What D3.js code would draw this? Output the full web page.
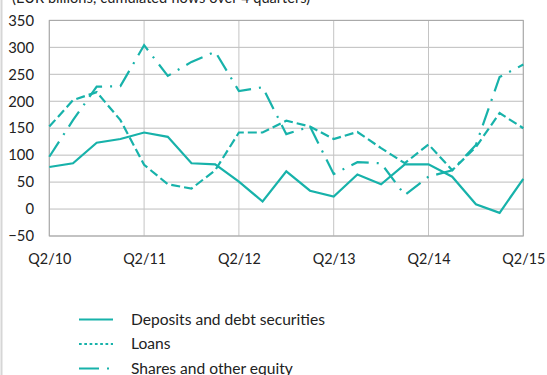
<!DOCTYPE html>
<html>
<head>
<meta charset="utf-8">
<script src="https://cdn.jsdelivr.net/npm/d3@7"></script>
<style>
  html, body { margin: 0; padding: 0; background: #fff; }
  svg { display: block; font-family: "Lato", "Open Sans", sans-serif; }
</style>
</head>
<body>
<svg id="chart" width="547" height="375"></svg>
<script>
const title = "(EUR billions; cumulated flows over 4 quarters)";
const quarters = ["Q2/10","Q3/10","Q4/10","Q1/11","Q2/11","Q3/11","Q4/11","Q1/12","Q2/12","Q3/12","Q4/12","Q1/13","Q2/13","Q3/13","Q4/13","Q1/14","Q2/14","Q3/14","Q4/14","Q1/15","Q2/15"];
const xTickLabels = ["Q2/10","Q2/11","Q2/12","Q2/13","Q2/14","Q2/15"];
const yTicks = [-50, 0, 50, 100, 150, 200, 250, 300, 350];
const deposits = [78, 85, 123, 130, 142, 134, 85, 83, 51, 14, 70, 34, 23, 64, 46, 83, 83, 60, 9, -7, 56];
const loans    = [153, 202, 217, 165, 82, 46, 38, 72, 142, 142, 164, 153, 130, 143, 113, 85, 120, 72, 115, 178, 150];
const shares   = [97, 165, 227, 228, 304, 247, 273, 292, 219, 226, 139, 153, 65, 87, 85, 26, 60, 72, 119, 245, 268];
const seriesNames = ["Deposits and debt securities", "Loans", "Shares and other equity"];

(function () {
const color = "#17b2aa";
const svg = d3.select("#chart");
const pL = 49.3, pR = 523.3, pT = 20.4, pB = 236;

const x = d3.scaleLinear().domain([0, quarters.length - 1]).range([pL, pR]);
const y = d3.scaleLinear().domain([-50, 350]).range([pB, pT]);

// left border line
svg.append("line").attr("x1", 1.5).attr("x2", 1.5).attr("y1", 0).attr("y2", 375)
  .attr("stroke", "#d6d6d6").attr("stroke-width", 2);

// title (cut off at top in the reference)
svg.append("text").attr("x", 12).attr("y", 3).attr("font-size", 14.6).attr("fill", "#222")
  .text(title);

// grid horizontal
svg.append("g").selectAll("line").data(yTicks).join("line")
  .attr("x1", pL).attr("x2", pR)
  .attr("y1", d => y(d)).attr("y2", d => y(d))
  .attr("stroke", "#bdbdbd").attr("stroke-width", 1);

// grid vertical (year ticks)
const yearIdx = xTickLabels.map(l => quarters.indexOf(l));
svg.append("g").selectAll("line").data(yearIdx).join("line")
  .attr("x1", d => x(d)).attr("x2", d => x(d))
  .attr("y1", pT).attr("y2", pB)
  .attr("stroke", "#c4c4c4").attr("stroke-width", 1);

// frame
svg.append("rect").attr("x", pL).attr("y", pT).attr("width", pR - pL).attr("height", pB - pT)
  .attr("fill", "none").attr("stroke", "#a8a8a8").attr("stroke-width", 1);

// y axis labels
const yAxis = d3.axisLeft(y).tickValues(yTicks).tickSize(0).tickPadding(0).tickFormat(d3.format("d"));
const gy = svg.append("g").attr("transform", `translate(34,0)`).call(yAxis);
gy.select(".domain").remove();
gy.selectAll("text").attr("font-size", 14.8).attr("fill", "#222").attr("font-family", "Lato, 'Open Sans', sans-serif");

// x axis labels (narrowed horizontally to mimic the condensed original face)
const xAxis = d3.axisBottom(x).tickValues(yearIdx).tickSize(0).tickPadding(0).tickFormat(i => quarters[i]);
const gx = svg.append("g").attr("transform", `translate(0,253)`).call(xAxis);
gx.select(".domain").remove();
gx.selectAll("text").attr("font-size", 16).attr("fill", "#222")
  .attr("font-family", "Lato, 'Open Sans', sans-serif")
  .each(function () {
    const w = this.getComputedTextLength();
    const s = w > 0 ? 43 / w : 1;
    d3.select(this).attr("transform", `scale(${s},1)`);
  });

const line = d3.line().x((d, i) => x(i)).y(d => y(d));
const styles = [
  { data: deposits, dash: null },
  { data: loans, dash: "9,4" },
  { data: shares, dash: "18,8,2,8" }
];
styles.forEach(s => {
  svg.append("path").datum(s.data).attr("d", line)
    .attr("fill", "none").attr("stroke", color).attr("stroke-width", 2.2)
    .attr("stroke-dasharray", s.dash);
});

// legend
const legendDash = [null, "2.7,2.6", "20,8,2,50"];
const lg = svg.append("g");
seriesNames.forEach((name, i) => {
  const ly = 319.5 + i * 24.5;
  lg.append("line").attr("x1", 79).attr("x2", 113).attr("y1", ly).attr("y2", ly)
    .attr("stroke", color).attr("stroke-width", 2.2).attr("stroke-dasharray", legendDash[i]);
  lg.append("text").attr("x", 131).attr("y", ly + 5).attr("font-size", 15.6).attr("fill", "#222").text(name);
});
})();
</script>
</body>
</html>
